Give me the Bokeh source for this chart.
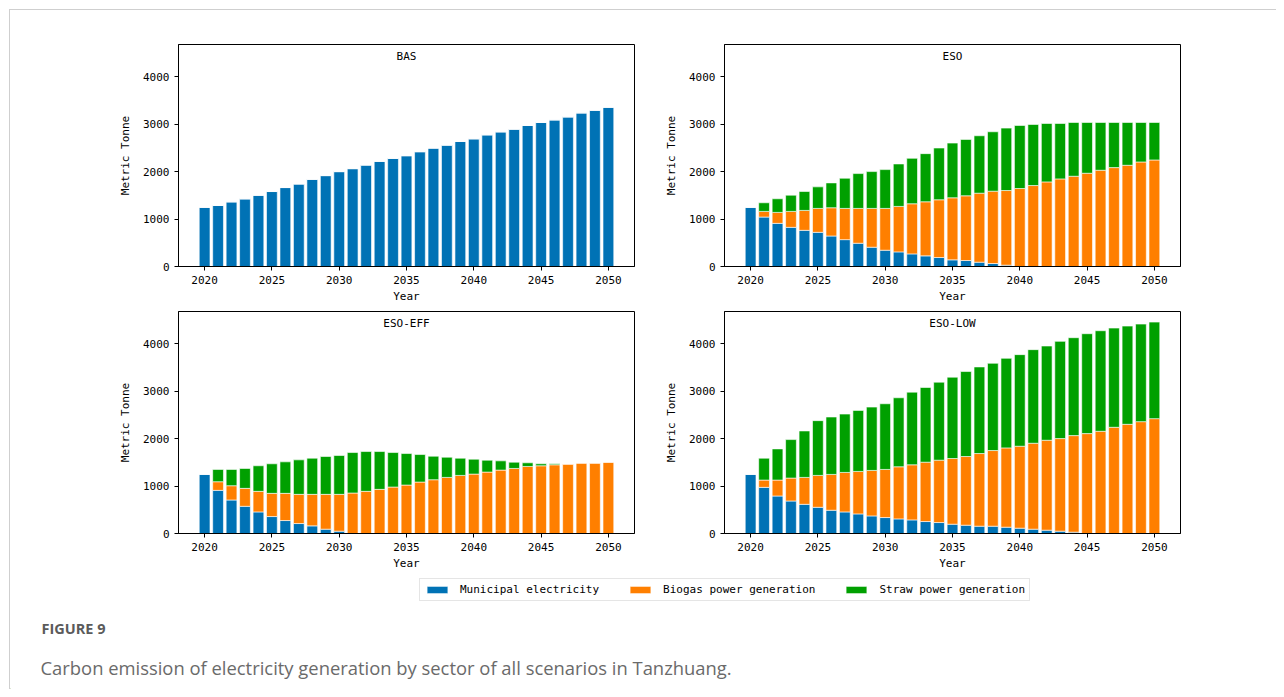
from bokeh.plotting import figure
from bokeh.models import ColumnDataSource, Range1d, FixedTicker, Label, Legend, LegendItem
from bokeh.layouts import row, column
from bokeh.embed import file_html
from bokeh.resources import INLINE

# ---------------- data ----------------
years = list(range(2020, 2051))
x_ticks = [2020, 2025, 2030, 2035, 2040, 2045, 2050]
y_ticks = [0, 1000, 2000, 3000, 4000]

series_names = ["Municipal electricity", "Biogas power generation", "Straw power generation"]
scenario_titles = ["BAS", "ESO", "ESO-EFF", "ESO-LOW"]

bas_municipal = [1248, 1287, 1364, 1427, 1503, 1580, 1664, 1741, 1839, 1916,
                 2000, 2063, 2140, 2217, 2280, 2336, 2420, 2497, 2559, 2636,
                 2692, 2776, 2839, 2895, 2972, 3035, 3091, 3154, 3238, 3294,
                 3357]
bas_biogas = [0] * 31
bas_straw = [0] * 31

eso_municipal = [1248, 1042, 909, 825, 762, 720, 643, 566, 490, 406,
                 343, 308, 266, 224, 189, 140, 126, 91, 63, 28,
                 0, 0, 0, 0, 0, 0, 0, 0, 0, 0,
                 0]
eso_biogas = [0, 119, 231, 336, 420, 504, 595, 658, 734, 818,
              881, 958, 1056, 1140, 1217, 1308, 1364, 1454, 1524, 1573,
              1643, 1706, 1783, 1846, 1902, 1965, 2028, 2084, 2133, 2203,
              2245]
eso_straw = [0, 182, 287, 342, 398, 454, 524, 636, 734, 776,
             818, 895, 958, 1014, 1091, 1153, 1188, 1210, 1252, 1315,
             1329, 1287, 1231, 1168, 1133, 1070, 1007, 951, 902, 832,
             790]

eff_municipal = [1248, 909, 706, 573, 455, 357, 273, 210, 161, 91,
                 49, 0, 0, 0, 0, 0, 0, 0, 0, 0,
                 0, 0, 0, 0, 0, 0, 0, 0, 0, 0,
                 0]
eff_biogas = [0, 182, 301, 378, 433, 489, 573, 615, 664, 734,
              776, 853, 888, 930, 979, 1021, 1084, 1133, 1182, 1224,
              1252, 1294, 1336, 1371, 1413, 1427, 1448, 1462, 1483, 1483,
              1503]
eff_straw = [0, 259, 343, 420, 539, 623, 664, 727, 762, 797,
             818, 853, 839, 797, 727, 664, 580, 496, 426, 363,
             314, 251, 195, 132, 77, 42, 21, 0, 0, 0,
             0]

low_municipal = [1248, 972, 790, 685, 615, 552, 490, 455, 413, 371,
                 336, 308, 287, 252, 231, 196, 175, 154, 154, 133,
                 112, 91, 70, 49, 28, 0, 0, 0, 0, 0,
                 0]
low_biogas = [0, 154, 336, 483, 567, 672, 755, 832, 895, 958,
              1014, 1098, 1161, 1251, 1314, 1384, 1447, 1531, 1594, 1671,
              1727, 1811, 1895, 1951, 2035, 2105, 2154, 2238, 2301, 2357,
              2420]
low_straw = [0, 461, 657, 811, 979, 1154, 1210, 1230, 1286, 1335,
             1384, 1454, 1531, 1574, 1644, 1714, 1791, 1825, 1839, 1888,
             1930, 1972, 1986, 2049, 2063, 2105, 2119, 2091, 2070, 2056,
             2035]

caption_head = "FIGURE 9"
caption_text = "Carbon emission of electricity generation by sector of all scenarios in Tanzhuang."

# ---------------- style ----------------
colors = ["#0072b5", "#ff7f00", "#00a000"]
FONT = "DejaVu Sans Mono"
X_MIN, X_MAX = 2018.06, 2051.94
Y_MAX = 4678


def panel(title, mun, bio, straw, width, height, bl, br, bt, bb):
    src = ColumnDataSource(dict(year=years, mun=mun, bio=bio, straw=straw))
    p = figure(width=width, height=height,
               x_range=Range1d(X_MIN, X_MAX), y_range=Range1d(0, Y_MAX),
               output_backend="svg", toolbar_location=None,
               min_border_left=bl, min_border_right=br,
               min_border_top=bt, min_border_bottom=bb)
    p.vbar_stack(["mun", "bio", "straw"], x="year", width=0.8, source=src,
                 fill_color=colors, line_color="white", line_width=0.6)
    p.xgrid.visible = False
    p.ygrid.visible = False
    p.xaxis.ticker = FixedTicker(ticks=x_ticks)
    p.yaxis.ticker = FixedTicker(ticks=y_ticks)
    p.axis.minor_tick_line_color = None
    p.axis.major_tick_in = 0
    p.axis.major_tick_out = 4
    p.axis.axis_line_color = "black"
    p.axis.major_tick_line_color = "black"
    p.axis.major_label_text_font = FONT
    p.axis.major_label_text_font_size = "11px"
    p.axis.major_label_text_color = "black"
    p.axis.axis_label_text_font = FONT
    p.axis.axis_label_text_font_style = "normal"
    p.axis.axis_label_text_color = "black"
    p.xaxis.axis_label = "Year"
    p.yaxis.axis_label = "Metric Tonne"
    p.xaxis.axis_label_text_font_size = "11px"
    p.yaxis.axis_label_text_font_size = "11px"
    p.xaxis.major_label_standoff = 5
    p.xaxis.axis_label_standoff = 3
    p.yaxis.major_label_standoff = 5
    p.yaxis.axis_label_standoff = 8
    p.outline_line_color = "black"
    p.outline_line_alpha = 1
    p.outline_line_width = 1
    p.add_layout(Label(x=(X_MIN + X_MAX) / 2, y=Y_MAX, y_offset=-5, text=title,
                       text_align="center", text_baseline="top",
                       text_font=FONT, text_font_size="11px", text_color="black"))
    return p


# layout children start at (10,10) on the page
LW, RW = 650, 616
TH, BH = 295, 267
p1 = panel(scenario_titles[0], bas_municipal, bas_biogas, bas_straw, LW, TH, 168, 26, 34, 38)
p2 = panel(scenario_titles[1], eso_municipal, eso_biogas, eso_straw, RW, TH, 64, 96, 34, 38)
p3 = panel(scenario_titles[2], eff_municipal, eff_biogas, eff_straw, LW, BH, 168, 26, 6, 38)
p4 = panel(scenario_titles[3], low_municipal, low_biogas, low_straw, RW, BH, 64, 96, 6, 38)

# bottom strip: legend + caption
BW, BHT = LW + RW, 117
pb = figure(width=BW, height=BHT, x_range=Range1d(0, BW), y_range=Range1d(0, BHT),
            output_backend="svg", toolbar_location=None, min_border=0,
            x_axis_location=None, y_axis_location=None)
pb.outline_line_color = None
pb.grid.visible = False
items = []
for name, c in zip(series_names, colors):
    # legend key renderers (placed outside the visible range)
    r = pb.vbar(x=[-1000], top=[1], width=1, fill_color=c, line_color="white", line_width=0.6)
    items.append(LegendItem(label=name, renderers=[r]))
legend = Legend(items=items, orientation="horizontal", location=(409, 88),
                glyph_width=26, glyph_height=9, label_height=11, label_standoff=10,
                spacing=28, padding=4, margin=0, border_line_color="#cccccc",
                border_line_width=1, background_fill_color="white", background_fill_alpha=1,
                label_text_font=FONT, label_text_font_size="11px", label_text_color="black")
pb.add_layout(legend, "center")

pb.add_layout(Label(x=31, y=61, text=caption_head, text_font="Open Sans",
                    text_font_size="14.5px", text_font_style="bold",
                    text_color="#5b5b5b", text_baseline="middle"))
pb.add_layout(Label(x=30, y=22, text=caption_text, text_font="Open Sans",
                    text_font_size="18.4px", text_color="#6a6a6a", text_baseline="middle"))

layout = column(row(p1, p2), row(p3, p4), pb, margin=(9, 0, 0, 9),
                styles={"border-top": "1px solid #cfcfcf", "border-left": "1px solid #cfcfcf"})

open("out.html", "w").write(file_html(layout, INLINE))
